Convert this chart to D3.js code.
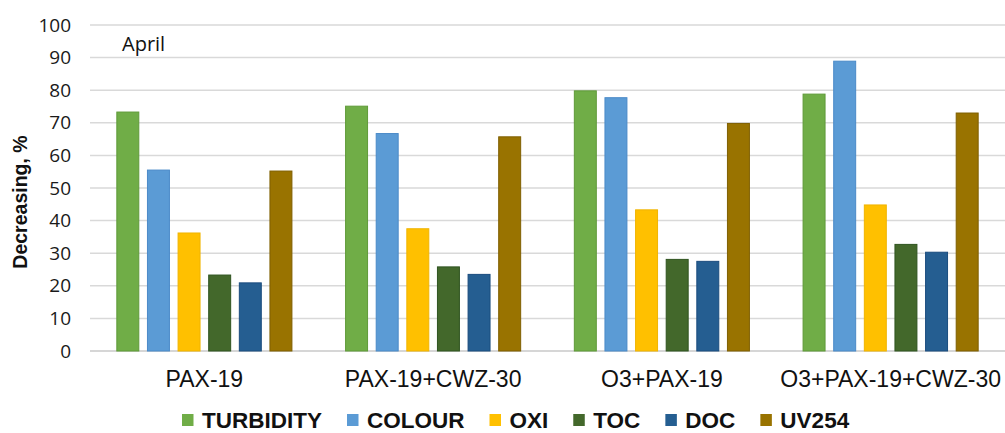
<!DOCTYPE html>
<html>
<head>
<meta charset="utf-8">
<script src="https://cdn.jsdelivr.net/npm/d3@7"></script>
<style>
  html, body { margin: 0; padding: 0; background: #fff; }
  svg { display: block; }
</style>
</head>
<body>
<svg id="chart"></svg>
<script>
// data
const categories = ["PAX-19", "PAX-19+CWZ-30", "O3+PAX-19", "O3+PAX-19+CWZ-30"];
const seriesNames = ["TURBIDITY", "COLOUR", "OXI", "TOC", "DOC", "UV254"];
const turbidity = [73.3, 75.1, 79.8, 78.8];
const colour    = [55.5, 66.7, 77.7, 88.9];
const oxi       = [36.2, 37.5, 43.3, 44.8];
const toc       = [23.3, 25.8, 28.1, 32.7];
const doc       = [20.9, 23.5, 27.5, 30.3];
const uv254     = [55.2, 65.7, 69.8, 73.0];
const yTicks = [0, 10, 20, 30, 40, 50, 60, 70, 80, 90, 100];

const seriesValues = [turbidity, colour, oxi, toc, doc, uv254];
const colors = ["#70ad47", "#5b9bd5", "#ffc000", "#43682b", "#255e91", "#997300"];
const strokes = ["#5f9a38", "#4a8ac8", "#f0b400", "#2f5420", "#1a4c7e", "#7f5f00"];

const width = 1005, height = 433;
const margin = { left: 90, right: 0, top: 25, bottom: 82 };

const svg = d3.select("#chart").attr("width", width).attr("height", height);

const x0 = d3.scaleBand().domain(categories).range([margin.left, width - margin.right]).padding(0);
const x1 = d3.scaleBand().domain(seriesNames).range([0, x0.bandwidth()])
    .paddingInner(0.25).paddingOuter(0.86);
const y = d3.scaleLinear().domain([0, 100]).range([height - margin.bottom, margin.top]);

// gridlines
svg.append("g")
    .selectAll("line")
    .data(yTicks)
    .join("line")
    .attr("x1", margin.left).attr("x2", width - margin.right)
    .attr("y1", d => y(d)).attr("y2", d => y(d))
    .attr("stroke", d => d === 0 ? "#c8c8c8" : "#d9d9d9")
    .attr("stroke-width", 1.5);

// y axis labels
const yAxis = svg.append("g")
    .attr("transform", `translate(${margin.left - 19},0)`)
    .call(d3.axisLeft(y).tickValues(yTicks).tickSize(0).tickPadding(0));
yAxis.select(".domain").remove();
yAxis.selectAll("text")
    .attr("font-family", "'Open Sans', sans-serif")
    .attr("font-size", 19)
    .attr("fill", "#1a1a1a");

// bars
const groups = svg.append("g")
    .selectAll("g")
    .data(categories)
    .join("g")
    .attr("transform", d => `translate(${x0(d)},0)`);

groups.selectAll("rect")
    .data((d, i) => seriesNames.map((s, j) => ({ s, j, v: seriesValues[j][i] })))
    .join("rect")
    .attr("x", d => x1(d.s) + 0.5)
    .attr("width", x1.bandwidth() - 1)
    .attr("y", d => y(d.v))
    .attr("height", d => y(0) - y(d.v))
    .attr("fill", d => colors[d.j])
    .attr("stroke", d => strokes[d.j])
    .attr("stroke-width", 1);

// x axis labels
const xAxis = svg.append("g")
    .attr("transform", `translate(0,${y(0)})`)
    .call(d3.axisBottom(x0).tickSize(0).tickPadding(36));
xAxis.select(".domain").remove();
xAxis.selectAll("text")
    .attr("font-family", "'Liberation Sans', Arial, sans-serif")
    .attr("font-size", 23)
    .attr("fill", "#111")
    .attr("dy", 0);

// y axis title
svg.append("text")
    .attr("transform", `translate(27,${(y(0) + y(100)) / 2 + 14}) rotate(-90)`)
    .attr("text-anchor", "middle")
    .attr("font-family", "'Liberation Sans', Arial, sans-serif")
    .attr("font-weight", "bold")
    .attr("font-size", 19.5)
    .attr("fill", "#111")
    .text("Decreasing, %");

// month label
svg.append("text")
    .attr("x", 122).attr("y", 50.5)
    .attr("font-family", "'Open Sans', sans-serif")
    .attr("font-size", 20)
    .attr("fill", "#111")
    .text("April");

// legend
const legend = svg.append("g").attr("transform", "translate(182,428)");
let lx = 0;
seriesNames.forEach((s, i) => {
    legend.append("rect")
        .attr("x", lx).attr("y", -14)
        .attr("width", 11.5).attr("height", 12)
        .attr("fill", colors[i]);
    const t = legend.append("text")
        .attr("x", lx + 20).attr("y", 0)
        .attr("font-family", "'Liberation Sans', Arial, sans-serif")
        .attr("font-weight", "bold")
        .attr("font-size", 22.5)
        .attr("fill", "#111")
        .text(s);
    lx += 20 + t.node().getComputedTextLength() + 25;
});
</script>
</body>
</html>
